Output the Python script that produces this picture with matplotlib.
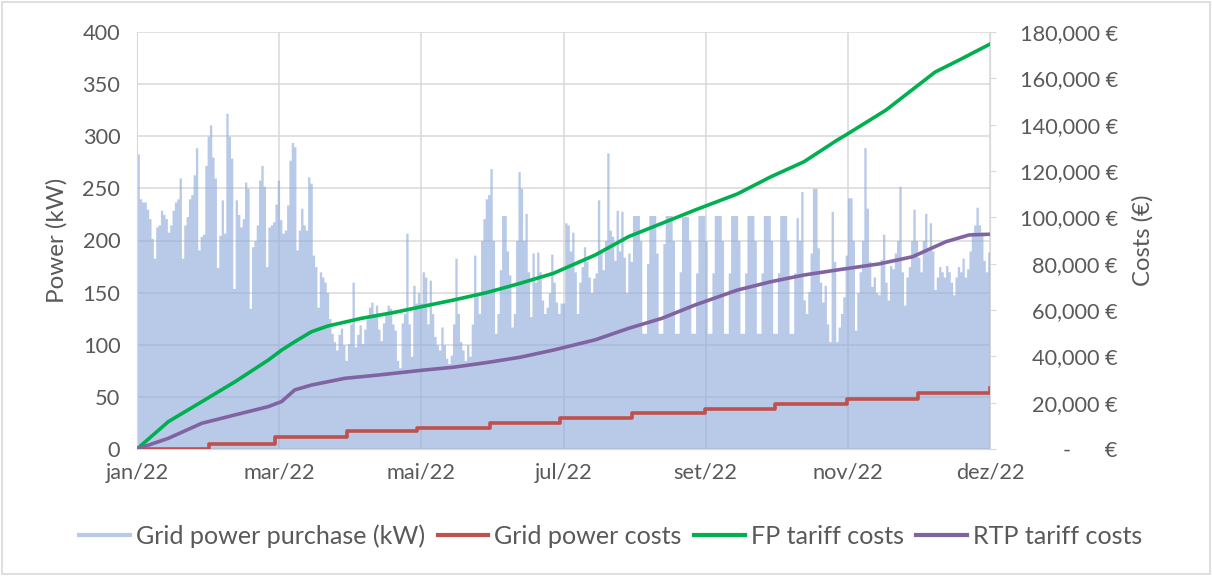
import numpy as np
import matplotlib
matplotlib.use("Agg")
import matplotlib.pyplot as plt
from matplotlib.lines import Line2D
from matplotlib.ticker import FuncFormatter

plt.rcParams['font.family'] = ['Lato', 'DejaVu Sans']

# daily peak grid purchase (kW)
jan = [283, 240, 237, 237, 230, 221, 202, 183, 213, 215, 229, 225, 221, 208, 215, 229,
       237, 240, 260, 183, 215, 223, 240, 244, 263, 289, 191, 204, 206, 272, 300]
feb = [311, 280, 260, 174, 205, 239, 207, 322, 300, 279, 154, 239, 225, 213, 221, 256,
       250, 135, 194, 200, 215, 258, 272, 252, 175, 213, 215, 218]
mar = [235, 258, 220, 207, 210, 234, 277, 294, 290, 191, 210, 231, 215, 210, 261, 255,
       186, 175, 136, 170, 165, 160, 150, 125, 111, 103, 95, 110, 116, 100, 85]
apr = [101, 120, 160, 98, 110, 119, 101, 115, 125, 136, 141, 130, 138, 115, 104, 121,
       130, 138, 135, 120, 114, 85, 78, 121, 130, 207, 120, 89, 157, 140]
mai = [150, 140, 170, 165, 120, 162, 130, 108, 100, 95, 117, 100, 87, 82, 90, 120,
       183, 130, 103, 95, 85, 100, 89, 120, 186, 150, 130, 200, 221, 240, 244]
jun = [269, 200, 111, 130, 172, 224, 224, 190, 167, 117, 130, 200, 266, 250, 200, 226,
       170, 127, 188, 160, 189, 170, 143, 130, 136, 150, 187, 160, 141, 130]
jul = [140, 140, 217, 215, 190, 208, 170, 130, 160, 175, 194, 180, 165, 150, 164, 169,
       239, 190, 172, 200, 284, 210, 204, 181, 229, 190, 228, 184, 150, 188, 180]
ago = [224, 224, 224, 200, 111, 111, 178, 224, 224, 224, 188, 111, 111, 197, 224, 224,
       224, 200, 111, 111, 170, 223, 223, 223, 200, 111, 111, 169, 224, 224, 224]
sep = [200, 111, 111, 169, 224, 224, 224, 200, 111, 111, 169, 224, 224, 224, 200, 111,
       111, 169, 224, 224, 224, 200, 111, 111, 169, 224, 224, 224, 200, 111]
out = [111, 169, 224, 224, 224, 200, 111, 111, 169, 222, 200, 247, 143, 130, 151, 188,
       250, 250, 193, 160, 141, 157, 120, 103, 228, 180, 103, 117, 130, 146, 186]
nov = [241, 241, 200, 114, 150, 170, 200, 289, 231, 180, 156, 165, 150, 148, 182, 206,
       160, 143, 176, 173, 188, 200, 252, 170, 138, 165, 175, 200, 230, 200]
dez = [184, 170, 200, 226, 190, 217, 190, 153, 165, 175, 170, 165, 176, 170, 160, 148,
       165, 175, 170, 183, 165, 173, 190, 208, 215, 232, 215, 208, 181, 170, 189]
power = np.array(jan + feb + mar + apr + mai + jun + jul + ago + sep + out + nov + dez, dtype=float)

# cumulative costs (day of year, EUR)
fp_days = [0, 13.4, 27.7, 41.9, 56.2, 61.9, 67.5, 74.6, 81.7, 96, 110.3, 123, 135.4, 149.6,
           163.9, 178.1, 196, 210.4, 224.6, 238.9, 256.9, 271.2, 285.4, 299.7, 303.4,
           320.5, 341.5, 352, 365]
fp_cost = [0, 11800, 20400, 29000, 38400, 42700, 46300, 50600, 53100, 56400, 59000, 61700,
           64300, 67500, 71500, 75800, 83700, 91700, 97400, 103200, 110100, 117500, 124000,
           133400, 135600, 146300, 162700, 168000, 174800]
rtp_days = [0, 13.4, 27.7, 41.9, 56.2, 61.9, 67.5, 74.6, 88.9, 103, 123, 135.4, 149.6, 163.9,
            178.1, 196, 210.4, 224.6, 238.9, 256.9, 271.2, 285.4, 299.7, 317.6, 331.9,
            346.2, 356.1, 365]
rtp_cost = [0, 4600, 11100, 14700, 18300, 20500, 25500, 27600, 30500, 31900, 34100, 35300,
            37300, 39600, 42700, 47100, 52100, 56400, 62200, 68600, 72200, 75100, 77300,
            79900, 83000, 89500, 92400, 92700]
grid_days = [0, 31, 59, 90, 120, 151, 181, 212, 243, 273, 304, 334, 365]
grid_cost = [0, 2300, 5000, 7600, 9200, 11350, 13500, 15700, 17300, 19300, 21700, 24300, 26200]

month_labels = ['jan/22', 'mar/22', 'mai/22', 'jul/22', 'set/22', 'nov/22', 'dez/22']

txt = '#595959'
grid = '#d9d9d9'
c_power = '#8faadc'
c_grid = '#c0504d'
c_fp = '#00b050'
c_rtp = '#8064a2'

fig = plt.figure(figsize=(12.12, 5.76), dpi=100)
ax = fig.add_axes([137 / 1212, 1 - 449 / 576, (990 - 137) / 1212, (449 - 32) / 576])
ax2 = ax.twinx()

x = np.arange(len(power) + 1)
ax.fill_between(x, 0, np.append(power, power[-1]), step='post', color=c_power,
                alpha=0.62, linewidth=0)

ax.set_xlim(0, 365)
ax.set_ylim(0, 400)
ax.set_yticks(np.arange(0, 401, 50))
ax.set_xticks(np.linspace(0, 365, 7))
ax.set_xticklabels(month_labels)
ax.set_axisbelow(True)
ax.grid(True, color=grid, lw=1.1)
ax.tick_params(axis='y', length=0, pad=12, labelsize=15.7, labelcolor=txt)
ax.tick_params(axis='x', length=0, pad=10, labelsize=15.7, labelcolor=txt)
ax.set_ylabel('Power (kW)', fontsize=17.4, color=txt, labelpad=11)
for s in ['top', 'right']:
    ax.spines[s].set_visible(False)
ax.spines['left'].set_color(grid)
ax.spines['bottom'].set_color(grid)

ax2.plot(grid_days, grid_cost, drawstyle='steps-post', color=c_grid, lw=2.6)
ax2.plot(fp_days, fp_cost, color=c_fp, lw=2.6)
ax2.plot(rtp_days, rtp_cost, color=c_rtp, lw=2.6)
ax2.set_ylim(0, 180000)
ax2.set_yticks(np.arange(0, 180001, 20000))


def eur(v, pos):
    if v == 0:
        return '-      €'
    return f'{v:,.0f} €'


ax2.yaxis.set_major_formatter(FuncFormatter(eur))
ax2.tick_params(axis='y', direction='out', length=4, color=grid, pad=88,
                labelsize=15.7, labelcolor=txt)
for lab in ax2.get_yticklabels():
    lab.set_horizontalalignment('right')
ax2.set_ylabel('Costs (€)', fontsize=17.2, color=txt, labelpad=10)
for s in ['top', 'left', 'bottom']:
    ax2.spines[s].set_visible(False)
ax2.spines['right'].set_color(grid)

handles = [Line2D([], [], color=c_power, alpha=0.62, lw=3),
           Line2D([], [], color=c_grid, lw=3),
           Line2D([], [], color=c_fp, lw=3),
           Line2D([], [], color=c_rtp, lw=3)]
names = ['Grid power purchase (kW)', 'Grid power costs', 'FP tariff costs', 'RTP tariff costs']
leg = fig.legend(handles, names, loc='center', bbox_to_anchor=(0.504, 0.069), ncol=4,
                 frameon=False, fontsize=18.1, handlelength=2.0, handletextpad=0.25,
                 columnspacing=0.5)
for t in leg.get_texts():
    t.set_color(txt)

fig.patches.append(plt.Rectangle((0.002, 0.003), 0.996, 0.994, transform=fig.transFigure,
                                 fill=False, edgecolor=grid, lw=1.2))

fig.savefig('out.png', dpi=100, facecolor='white')
